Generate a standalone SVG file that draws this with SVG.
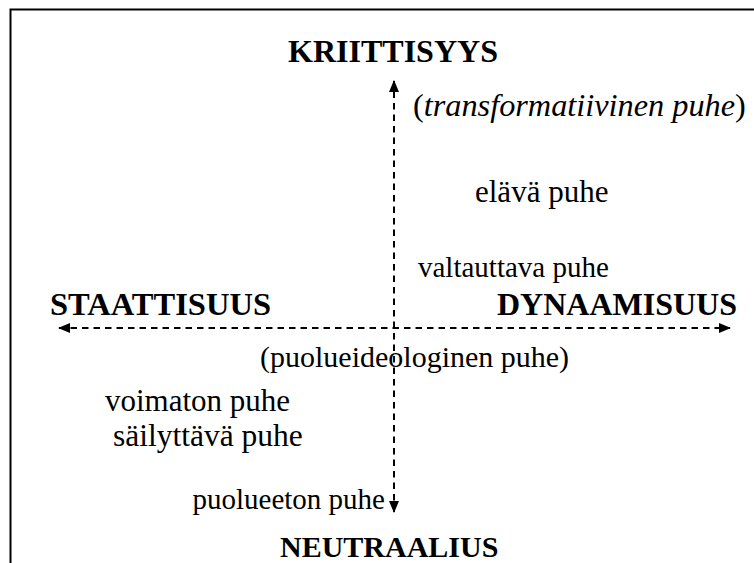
<svg xmlns="http://www.w3.org/2000/svg" width="754" height="563" viewBox="0 0 754 563">
<style>
.t{font-family:"Liberation Serif","Times New Roman",serif;fill:#000}
.b{font-family:"Liberation Serif","Times New Roman",serif;font-weight:bold;fill:#000}
.ax{stroke:#000;stroke-width:2;stroke-dasharray:6.5 5;fill:none}
</style>
<defs>
<marker id="ah" viewBox="0 0 12 10" refX="11" refY="5" markerWidth="12" markerHeight="10" markerUnits="userSpaceOnUse" orient="auto-start-reverse">
<path d="M0,0 L12,5 L0,10 z" fill="#000"/>
</marker>
</defs>
<rect width="754" height="563" fill="#fff"/>
<path d="M10.5,563 V9.5 H754" stroke="#000" stroke-width="2" fill="none"/>
<g id="connectors">
<line class="ax" x1="394" y1="512" x2="394" y2="81" marker-end="url(#ah)" marker-start="url(#ah)"/>
<line class="ax" x1="59" y1="328" x2="730" y2="328" marker-end="url(#ah)" marker-start="url(#ah)"/>
</g>
<g id="kriittisyys"><text class="b" font-size="32" x="393" y="62" text-anchor="middle">KRIITTISYYS</text></g>
<g id="neutraalius"><text class="b" font-size="30" x="280" y="557">NEUTRAALIUS</text></g>
<g id="staattisuus"><text class="b" font-size="32.5" x="50" y="315">STAATTISUUS</text></g>
<g id="dynaamisuus"><text class="b" font-size="32" x="497" y="315">DYNAAMISUUS</text></g>
<g id="transformatiivinen"><text class="t" font-size="32.3" x="413" y="116">(<tspan font-style="italic">transformatiivinen puhe</tspan>)</text></g>
<g id="elava"><text class="t" font-size="31" x="475" y="202">elävä puhe</text></g>
<g id="valtauttava"><text class="t" font-size="29" x="418" y="277">valtauttava puhe</text></g>
<g id="puolueideologinen"><text class="t" font-size="30" x="260" y="367">(puolueideologinen puhe)</text></g>
<g id="voimaton"><text class="t" font-size="31" x="105" y="411">voimaton puhe</text></g>
<g id="sailyttava"><text class="t" font-size="31.5" x="113" y="446">säilyttävä puhe</text></g>
<g id="puolueeton"><text class="t" font-size="29" x="385" y="509" text-anchor="end">puolueeton puhe</text></g>
</svg>
